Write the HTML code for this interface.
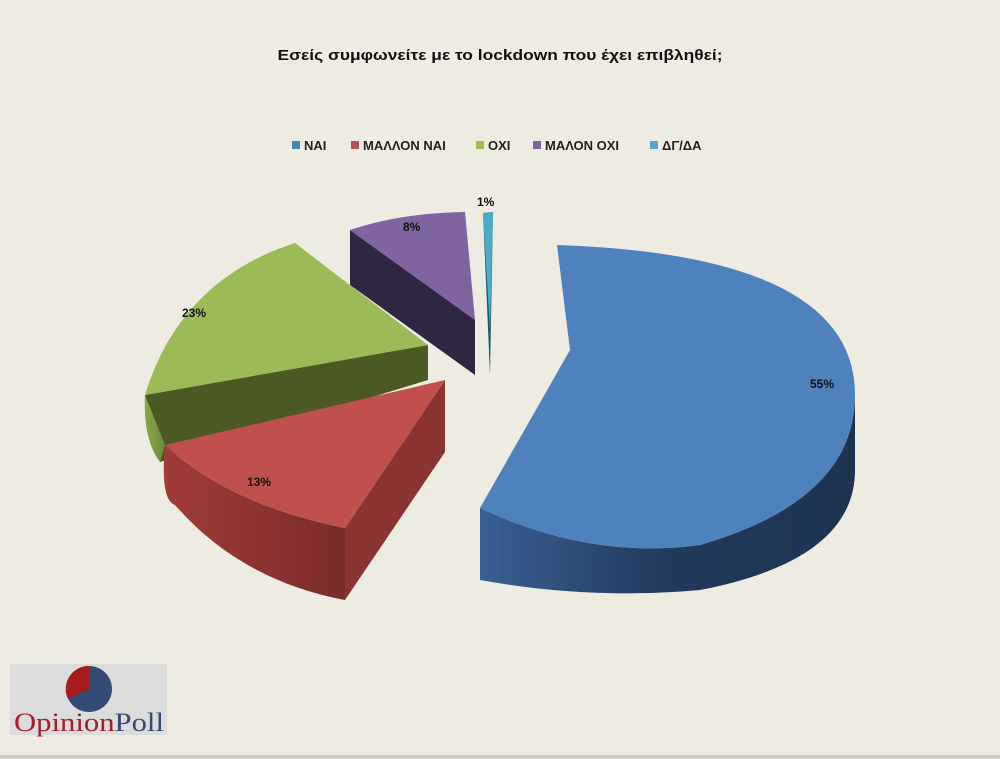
<!DOCTYPE html>
<html><head><meta charset="utf-8"><style>
body{margin:0;background:#eeece2;}
svg{display:block;font-family:"Liberation Sans",sans-serif;}
</style></head><body>
<svg width="1000" height="759" viewBox="0 0 1000 759">
<defs>
<linearGradient id="bs" x1="0" y1="0" x2="1" y2="0"><stop offset="0" stop-color="#3a5f94"/><stop offset="0.5" stop-color="#233a5c"/><stop offset="1" stop-color="#1e3350"/></linearGradient>
<linearGradient id="rs" x1="0" y1="0" x2="1" y2="0"><stop offset="0" stop-color="#a03c3a"/><stop offset="1" stop-color="#7a2b2a"/></linearGradient>
<linearGradient id="gs" x1="0" y1="0" x2="1" y2="0"><stop offset="0" stop-color="#8aa64a"/><stop offset="1" stop-color="#6e8a38"/></linearGradient>
</defs>
<rect width="1000" height="759" fill="#eeece2"/>
<rect x="0" y="755" width="1000" height="4" fill="#cfcdc4"/>
<text x="500" y="60" text-anchor="middle" font-size="15" font-weight="bold" fill="#111" textLength="445" lengthAdjust="spacingAndGlyphs">Εσείς συμφωνείτε με το lockdown που έχει επιβληθεί;</text>
<g font-size="13" font-weight="bold" fill="#222">
<rect x="292" y="141" width="8" height="8" fill="#4f81bd"/><text x="304" y="150">ΝΑΙ</text>
<rect x="351" y="141" width="8" height="8" fill="#c0504d"/><text x="363" y="150">ΜΑΛΛΟΝ ΝΑΙ</text>
<rect x="476" y="141" width="8" height="8" fill="#9bbb59"/><text x="488" y="150">ΟΧΙ</text>
<rect x="533" y="141" width="8" height="8" fill="#8064a2"/><text x="545" y="150">ΜΑΛΟΝ ΟΧΙ</text>
<rect x="650" y="141" width="8" height="8" fill="#4bacc6"/><text x="662" y="150">ΔΓ/ΔΑ</text>
</g>
<!-- green -->
<path d="M145,395 L428,345 L428,380 L160,462 Z" fill="#4a5a22"/>
<path d="M145,395 Q143,440 160,462 L165,445 Z" fill="url(#gs)"/>
<path d="M428,345 L295,243 Q180,280 145,395 Z" fill="#9bbb59"/>
<!-- purple -->
<path d="M350,230 L475,320 L475,375 L350,285 Z" fill="#2f2742"/>
<path d="M475,320 L350,230 Q400,213 465,212 Z" fill="#8064a2"/>
<!-- cyan -->
<path d="M483,213 L493,212 L490,375 Z" fill="#1d5a6a"/>
<path d="M483,213 L493,212 L490,330 Z" fill="#4bacc6"/>
<!-- red -->
<path d="M345,528 L445,380 L445,452 L345,600 Z" fill="#8a3432"/>
<path d="M165,445 Q160,500 175,505 Q240,580 345,600 L345,528 Q230,505 165,445 Z" fill="url(#rs)"/>
<path d="M445,380 L165,445 Q230,505 345,528 Z" fill="#c0504d"/>
<!-- blue -->
<path d="M855,395 Q855,500 700,545 Q590,560 480,508 L480,580 Q590,600 700,590 Q855,560 855,470 Z" fill="url(#bs)"/>
<path d="M570,350 L557,245 Q855,255 855,395 Q855,500 700,545 Q590,560 480,508 Z" fill="#4f81bd"/>
<g font-size="12" font-weight="bold" fill="#111">
<text x="810" y="388">55%</text>
<text x="247" y="486">13%</text>
<text x="182" y="317">23%</text>
<text x="403" y="231">8%</text>
<text x="477" y="206">1%</text>
</g>
<!-- logo -->
<rect x="10" y="664" width="157" height="71" fill="#dcdcdc"/>
<circle cx="89" cy="689" r="23" fill="#334a76"/>
<path d="M89,689 L89,666 A23,23 0 0,0 68,699 Z" fill="#a51c1c"/>
<text x="14" y="731" font-family="Liberation Serif,serif" font-size="26" fill="#a51c2a" textLength="150" lengthAdjust="spacingAndGlyphs">Opinion<tspan fill="#334a76">Poll</tspan></text>
</svg>
</body></html>
